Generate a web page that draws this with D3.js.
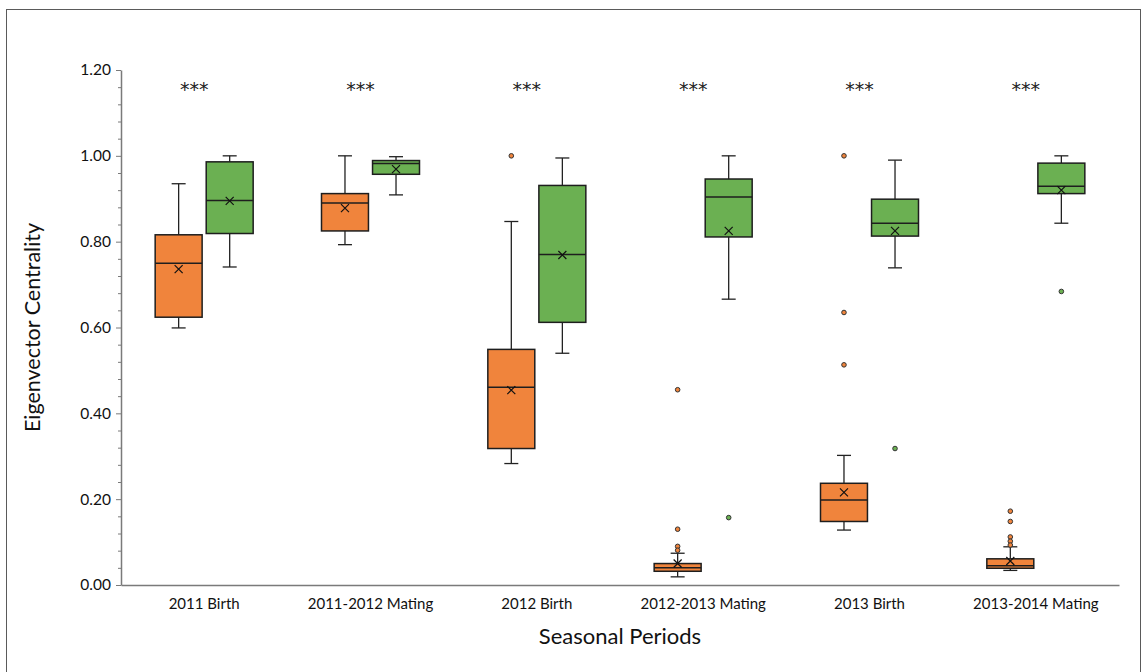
<!DOCTYPE html>
<html>
<head>
<meta charset="utf-8">
<script src="https://cdn.jsdelivr.net/npm/d3@7"></script>
<style>
  html, body { margin: 0; padding: 0; background: #fff; }
  svg { display: block; font-family: Lato, "Open Sans", sans-serif; }
</style>
</head>
<body>
<svg id="chart" width="1143" height="672"></svg>
<script>
// Seasonal periods on the x axis
const categories = ["2011 Birth", "2011-2012 Mating", "2012 Birth", "2012-2013 Mating", "2013 Birth", "2013-2014 Mating"];
const seriesKeys = ["orange", "green"];

// Box statistics per period, orange series
const orangeWhiskerLow  = [0.599, 0.793, 0.283, 0.019, 0.128, 0.034];
const orangeQ1          = [0.624, 0.825, 0.318, 0.032, 0.148, 0.039];
const orangeMedian      = [0.750, 0.890, 0.461, 0.040, 0.198, 0.045];
const orangeQ3          = [0.816, 0.912, 0.549, 0.050, 0.237, 0.061];
const orangeWhiskerHigh = [0.935, 1.000, 0.847, 0.074, 0.302, 0.089];
const orangeMean        = [0.736, 0.878, 0.454, 0.050, 0.216, 0.056];
const orangeOutliers    = [[], [], [1.000], [0.455, 0.130, 0.090, 0.081], [1.000, 0.635, 0.513], [0.172, 0.148, 0.112, 0.102, 0.093]];

// Box statistics per period, green series
const greenWhiskerLow  = [0.741, 0.909, 0.540, 0.666, 0.739, 0.843];
const greenQ1          = [0.819, 0.957, 0.612, 0.811, 0.813, 0.912];
const greenMedian      = [0.896, 0.982, 0.770, 0.904, 0.843, 0.929];
const greenQ3          = [0.986, 0.989, 0.931, 0.946, 0.899, 0.983];
const greenWhiskerHigh = [1.000, 0.998, 0.995, 1.000, 0.990, 1.000];
const greenMean        = [0.895, 0.969, 0.769, 0.825, 0.825, 0.920];
const greenOutliers    = [[], [], [], [0.157], [0.318], [0.684]];

// Significance markers and axis ticks
const significance = ["***", "***", "***", "***", "***", "***"];
const significanceLevel = 1.158;
const yMajorTicks = [0, 0.2, 0.4, 0.6, 0.8, 1.0, 1.2];
const yMinorStep = 0.04;

const colors = { orange: "#F0843C", green: "#6BB052" };

const series = {
  orange: { low: orangeWhiskerLow, q1: orangeQ1, med: orangeMedian, q3: orangeQ3, high: orangeWhiskerHigh, mean: orangeMean, out: orangeOutliers },
  green:  { low: greenWhiskerLow,  q1: greenQ1,  med: greenMedian,  q3: greenQ3,  high: greenWhiskerHigh,  mean: greenMean,  out: greenOutliers }
};

const svg = d3.select("#chart");
const plot = { left: 121, right: 1119, top: 70, bottom: 585 };

// outer frame
svg.append("rect")
  .attr("x", 6.5).attr("y", 9.5)
  .attr("width", 1134).attr("height", 700)
  .attr("fill", "none").attr("stroke", "#5a5a5a").attr("stroke-width", 1);

const x0 = d3.scaleBand().domain(categories).range([plot.left, plot.right]).padding(0);
const pairHalf = 49;
const x1 = d3.scaleBand().domain(seriesKeys)
  .range([x0.bandwidth() / 2 - pairHalf, x0.bandwidth() / 2 + pairHalf])
  .paddingInner(0.08);
const y = d3.scaleLinear().domain([0, 1.2]).range([plot.bottom, plot.top]);

// y axis: minor ticks
const minorVals = d3.range(0, 1.2 + 1e-9, yMinorStep)
  .filter(v => !yMajorTicks.some(m => Math.abs(m - v) < 1e-6));
const yMinor = svg.append("g")
  .attr("transform", `translate(${plot.left},0)`)
  .call(d3.axisLeft(y).tickValues(minorVals).tickSize(3).tickFormat(""));
yMinor.select(".domain").remove();
yMinor.selectAll("line").attr("stroke", "#7a7a7a").attr("stroke-width", 1);

// y axis: major ticks with labels
const yAxis = svg.append("g")
  .attr("transform", `translate(${plot.left},0)`)
  .call(d3.axisLeft(y).tickValues(yMajorTicks).tickFormat(d3.format(".2f")).tickSize(5).tickSizeOuter(0).tickPadding(5));
yAxis.select(".domain").attr("stroke", "#7a7a7a").attr("stroke-width", 1.5);
yAxis.selectAll("line").attr("stroke", "#7a7a7a").attr("stroke-width", 1);
yAxis.selectAll("text").attr("font-size", 15.5).attr("fill", "#111").attr("font-family", "Lato, sans-serif");

// x axis
const xAxis = svg.append("g")
  .attr("transform", `translate(0,${plot.bottom})`)
  .call(d3.axisBottom(x0).tickSize(0).tickSizeOuter(0).tickPadding(13));
xAxis.select(".domain").attr("stroke", "#7a7a7a").attr("stroke-width", 1.5);
xAxis.selectAll("text").attr("font-size", 15).attr("fill", "#111").attr("font-family", "Lato, sans-serif");

// axis titles
svg.append("text")
  .attr("transform", `translate(40,${(plot.top + plot.bottom) / 2}) rotate(-90)`)
  .attr("text-anchor", "middle")
  .attr("font-size", 21.5).attr("fill", "#111")
  .text("Eigenvector Centrality");

svg.append("text")
  .attr("x", (plot.left + plot.right) / 2).attr("y", 644)
  .attr("text-anchor", "middle")
  .attr("font-size", 22).attr("fill", "#111")
  .text("Seasonal Periods");

// box plots
const capHalf = 7;
const markHalf = 4;
categories.forEach((cat, i) => {
  seriesKeys.forEach(key => {
    const s = series[key];
    const left = x0(cat) + x1(key);
    const w = x1.bandwidth();
    const cx = left + w / 2;
    const g = svg.append("g").attr("class", "box " + key);

    // whisker stems and caps
    g.append("line").attr("x1", cx).attr("x2", cx).attr("y1", y(s.high[i])).attr("y2", y(s.q3[i]))
      .attr("stroke", "#222").attr("stroke-width", 1.3);
    g.append("line").attr("x1", cx).attr("x2", cx).attr("y1", y(s.q1[i])).attr("y2", y(s.low[i]))
      .attr("stroke", "#222").attr("stroke-width", 1.3);
    [s.high[i], s.low[i]].forEach(v => {
      g.append("line").attr("x1", cx - capHalf).attr("x2", cx + capHalf).attr("y1", y(v)).attr("y2", y(v))
        .attr("stroke", "#222").attr("stroke-width", 1.3);
    });

    // box
    g.append("rect")
      .attr("x", left).attr("y", y(s.q3[i]))
      .attr("width", w).attr("height", y(s.q1[i]) - y(s.q3[i]))
      .attr("fill", colors[key]).attr("stroke", "#1e1e1e").attr("stroke-width", 1.5);

    // median
    g.append("line").attr("x1", left).attr("x2", left + w).attr("y1", y(s.med[i])).attr("y2", y(s.med[i]))
      .attr("stroke", "#1e1e1e").attr("stroke-width", 1.5);

    // mean marker
    const my = y(s.mean[i]);
    g.append("path")
      .attr("d", `M${cx - markHalf},${my - markHalf}L${cx + markHalf},${my + markHalf}M${cx - markHalf},${my + markHalf}L${cx + markHalf},${my - markHalf}`)
      .attr("stroke", "#111").attr("stroke-width", 1.2).attr("fill", "none");

    // outliers
    g.selectAll("circle.outlier").data(s.out[i]).join("circle")
      .attr("class", "outlier")
      .attr("cx", cx).attr("cy", d => y(d)).attr("r", 2.3)
      .attr("fill", colors[key]).attr("stroke", "#333").attr("stroke-width", 1);
  });
});

// significance markers above each period
svg.selectAll("text.sig").data(categories).join("text")
  .attr("class", "sig")
  .attr("x", d => x0(d) + x0.bandwidth() / 2 - 10)
  .attr("y", y(significanceLevel) + 8)
  .attr("text-anchor", "middle")
  .attr("font-size", 19).attr("fill", "#222")
  .attr("font-family", "'DejaVu Sans', sans-serif")
  .text((d, i) => significance[i]);
</script>
</body>
</html>
